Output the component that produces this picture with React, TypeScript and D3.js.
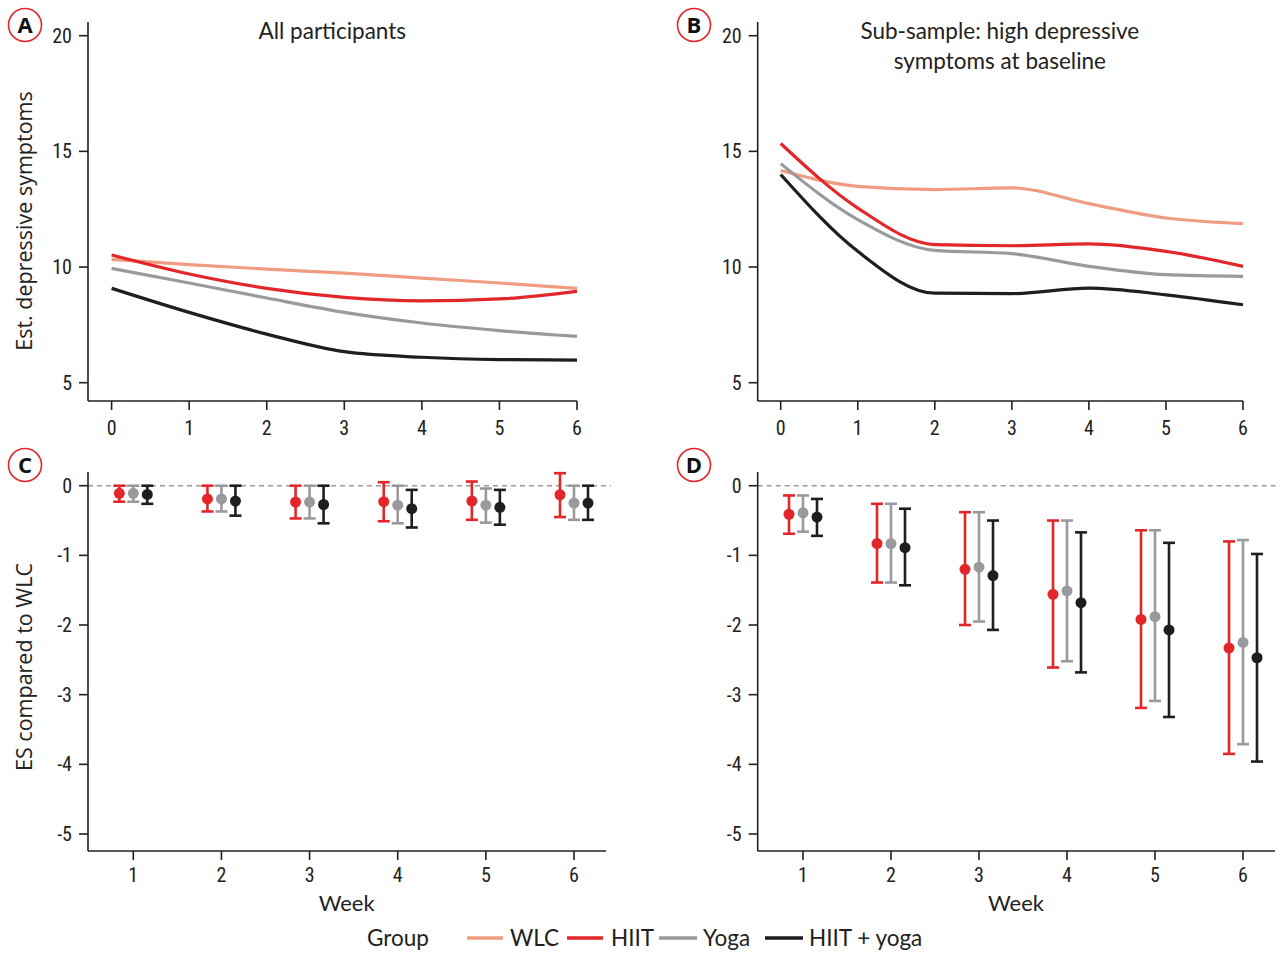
import React from "react";
import * as d3 from "d3";

// Panels A/B: estimated depressive symptoms by week
const weeks = [0, 1, 2, 3, 4, 5, 6];
const groups = ["WLC", "HIIT", "Yoga", "HIIT + yoga"];
const colors = ["#f09c80", "#e3262a", "#9a9a9e", "#1e1e20"];

const allWLC = [10.33, 10.1, 9.91, 9.74, 9.52, 9.31, 9.08];
const allHIIT = [10.52, 9.7, 9.08, 8.69, 8.54, 8.62, 8.95];
const allYoga = [9.94, 9.31, 8.66, 8.04, 7.58, 7.25, 7.0];
const allCombo = [9.08, 8.04, 7.1, 6.34, 6.1, 6.0, 5.98];

const subWLC = [14.17, 13.49, 13.35, 13.42, 12.74, 12.12, 11.88];
const subHIIT = [15.34, 12.55, 10.97, 10.92, 11.0, 10.68, 10.03];
const subYoga = [14.47, 12.05, 10.72, 10.58, 10.03, 9.67, 9.6];
const subCombo = [14.0, 10.68, 8.87, 8.85, 9.09, 8.8, 8.37];

// Panels C/D: effect size vs WLC (point, lower, upper)
const esWeeks = [1, 2, 3, 4, 5, 6];
const esGroups = ["HIIT", "Yoga", "HIIT + yoga"];

const allHIITes = [-0.11, -0.19, -0.235, -0.23, -0.22, -0.13];
const allHIITlo = [-0.23, -0.37, -0.47, -0.51, -0.49, -0.45];
const allHIIThi = [0, 0, 0, 0.05, 0.06, 0.18];
const allYogaEs = [-0.11, -0.19, -0.235, -0.28, -0.28, -0.25];
const allYogaLo = [-0.23, -0.37, -0.47, -0.54, -0.53, -0.49];
const allYogaHi = [0, 0, 0, 0, -0.04, 0];
const allComboEs = [-0.125, -0.22, -0.27, -0.33, -0.31, -0.25];
const allComboLo = [-0.26, -0.43, -0.54, -0.6, -0.56, -0.49];
const allComboHi = [0, 0, 0, -0.06, -0.06, 0];

const subHIITes = [-0.41, -0.83, -1.2, -1.56, -1.92, -2.33];
const subHIITlo = [-0.69, -1.39, -2.0, -2.61, -3.19, -3.85];
const subHIIThi = [-0.14, -0.26, -0.38, -0.5, -0.64, -0.8];
const subYogaEs = [-0.39, -0.83, -1.17, -1.51, -1.88, -2.25];
const subYogaLo = [-0.66, -1.39, -1.95, -2.52, -3.09, -3.71];
const subYogaHi = [-0.14, -0.26, -0.38, -0.5, -0.64, -0.78];
const subComboEs = [-0.45, -0.89, -1.29, -1.68, -2.07, -2.47];
const subComboLo = [-0.72, -1.43, -2.07, -2.68, -3.32, -3.96];
const subComboHi = [-0.19, -0.33, -0.5, -0.67, -0.82, -0.98];

const symTicks = [5, 10, 15, 20];
const esTicks = [0, -1, -2, -3, -4, -5];

const TICK_FONT = "'Liberation Sans Narrow', 'Roboto Condensed', 'Liberation Sans', sans-serif";
const FONT = "Lato, 'Open Sans', sans-serif";
const LABEL_FONT = "'Open Sans', 'Noto Sans', sans-serif";
const AXIS = "#231f20";

function Badge({ x, y, letter }: { x: number; y: number; letter: string }) {
  return (
    <g>
      <circle cx={x} cy={y} r={16.5} fill="white" stroke="#e3262a" strokeWidth={1.6} />
      <text x={x} y={y + 8} textAnchor="middle" fontFamily={LABEL_FONT} fontWeight={700} fontSize={22} fill="#111">
        {letter}
      </text>
    </g>
  );
}

function LinePanel({ left, x0, x6, series, title }: any) {
  const x = d3.scaleLinear().domain([0, 6]).range([x0, x6]);
  const y = d3.scaleLinear().domain([5, 20]).range([382.7, 35.7]);
  const top = 22;
  const bottom = 401;
  const line = d3
    .line<number>()
    .x((_, i) => x(weeks[i]))
    .y((d) => y(d))
    .curve(d3.curveMonotoneX);
  return (
    <g>
      <line x1={left} x2={left} y1={top} y2={bottom} stroke={AXIS} strokeWidth={1.6} />
      <line x1={left} x2={x6} y1={bottom} y2={bottom} stroke={AXIS} strokeWidth={1.6} />
      {symTicks.map((t) => (
        <g key={t}>
          <line x1={left - 9} x2={left} y1={y(t)} y2={y(t)} stroke={AXIS} strokeWidth={1.6} />
          <text x={left - 16} y={y(t) + 7} textAnchor="end" fontFamily={TICK_FONT} fontSize={20} fill="#222">
            {t}
          </text>
        </g>
      ))}
      {weeks.map((w) => (
        <g key={w}>
          <line x1={x(w)} x2={x(w)} y1={bottom} y2={bottom + 9} stroke={AXIS} strokeWidth={1.6} />
          <text x={x(w)} y={bottom + 34} textAnchor="middle" fontFamily={TICK_FONT} fontSize={20} fill="#222">
            {w}
          </text>
        </g>
      ))}
      {series.map((s: number[], i: number) => (
        <path key={i} d={line(s) || ""} fill="none" stroke={colors[i]} strokeWidth={3.2} />
      ))}
      {title.map((t: string, i: number) => (
        <text
          key={i}
          x={(x0 + x6) / 2 - 12}
          y={39 + i * 30}
          textAnchor="middle"
          fontFamily={FONT}
          fontSize={22.5}
          fill="#222"
        >
          {t}
        </text>
      ))}
    </g>
  );
}

function EsPanel({ left, right, x1, x6, es, lo, hi }: any) {
  const x = d3.scaleLinear().domain([1, 6]).range([x1, x6]);
  const y = d3.scaleLinear().domain([-5, 0]).range([834, 485.7]);
  const off = d3.scalePoint<string>().domain(esGroups).range([-14, 14]);
  const top = 472;
  const bottom = 851;
  return (
    <g>
      <line x1={left} x2={right + 5} y1={y(0)} y2={y(0)} stroke="#9a9a9a" strokeWidth={1.5} strokeDasharray="5,4" />
      <line x1={left} x2={left} y1={top} y2={bottom} stroke={AXIS} strokeWidth={1.6} />
      <line x1={left} x2={right} y1={bottom} y2={bottom} stroke={AXIS} strokeWidth={1.6} />
      {esTicks.map((t) => (
        <g key={t}>
          <line x1={left - 9} x2={left} y1={y(t)} y2={y(t)} stroke={AXIS} strokeWidth={1.6} />
          <text x={left - 16} y={y(t) + 7} textAnchor="end" fontFamily={TICK_FONT} fontSize={20} fill="#222">
            {t}
          </text>
        </g>
      ))}
      {esWeeks.map((w) => (
        <g key={w}>
          <line x1={x(w)} x2={x(w)} y1={bottom} y2={bottom + 9} stroke={AXIS} strokeWidth={1.6} />
          <text x={x(w)} y={bottom + 31} textAnchor="middle" fontFamily={TICK_FONT} fontSize={20} fill="#222">
            {w}
          </text>
        </g>
      ))}
      {esGroups.map((g, gi) =>
        esWeeks.map((w, wi) => {
          const cx = x(w) + (off(g) || 0);
          const c = colors[gi + 1];
          return (
            <g key={g + w}>
              <line x1={cx} x2={cx} y1={y(hi[gi][wi])} y2={y(lo[gi][wi])} stroke={c} strokeWidth={2.6} />
              <line x1={cx - 6} x2={cx + 6} y1={y(hi[gi][wi])} y2={y(hi[gi][wi])} stroke={c} strokeWidth={2.6} />
              <line x1={cx - 6} x2={cx + 6} y1={y(lo[gi][wi])} y2={y(lo[gi][wi])} stroke={c} strokeWidth={2.6} />
              <circle cx={cx} cy={y(es[gi][wi])} r={5.5} fill={c} />
            </g>
          );
        })
      )}
      <text x={(x1 + x6) / 2 - 7} y={911} textAnchor="middle" fontFamily={FONT} fontSize={22} fill="#222">
        Week
      </text>
    </g>
  );
}

export default function App() {
  const legendItems = [
    { x: 467, w: 36, tx: 510 },
    { x: 567, w: 36, tx: 611 },
    { x: 659, w: 38, tx: 703 },
    { x: 765, w: 38, tx: 809 },
  ];
  return (
    <svg width={1280} height={953} style={{ position: "absolute", left: 0, top: 0, background: "white" }}>
      <LinePanel left={88} x0={111.6} x6={577} series={[allWLC, allHIIT, allYoga, allCombo]} title={["All participants"]} />
      <LinePanel
        left={757.7}
        x0={780.7}
        x6={1243}
        series={[subWLC, subHIIT, subYoga, subCombo]}
        title={["Sub-sample: high depressive", "symptoms at baseline"]}
      />
      <EsPanel
        left={88}
        right={606}
        x1={133.3}
        x6={574}
        es={[allHIITes, allYogaEs, allComboEs]}
        lo={[allHIITlo, allYogaLo, allComboLo]}
        hi={[allHIIThi, allYogaHi, allComboHi]}
      />
      <EsPanel
        left={757.7}
        right={1275}
        x1={803}
        x6={1243}
        es={[subHIITes, subYogaEs, subComboEs]}
        lo={[subHIITlo, subYogaLo, subComboLo]}
        hi={[subHIIThi, subYogaHi, subComboHi]}
      />
      <text
        transform="translate(32,221) rotate(-90)"
        textAnchor="middle"
        fontFamily={LABEL_FONT}
        fontSize={21.5}
        fill="#222"
      >
        Est. depressive symptoms
      </text>
      <text
        transform="translate(32,667) rotate(-90)"
        textAnchor="middle"
        fontFamily={LABEL_FONT}
        fontSize={21.5}
        fill="#222"
      >
        ES compared to WLC
      </text>
      <Badge x={25} y={25} letter="A" />
      <Badge x={694} y={25} letter="B" />
      <Badge x={25} y={465} letter="C" />
      <Badge x={694} y={465} letter="D" />
      <text x={367} y={946} fontFamily={FONT} fontSize={22.5} fill="#222">
        Group
      </text>
      {groups.map((g, i) => (
        <g key={g}>
          <line
            x1={legendItems[i].x}
            x2={legendItems[i].x + legendItems[i].w}
            y1={938}
            y2={938}
            stroke={colors[i]}
            strokeWidth={3.5}
          />
          <text x={legendItems[i].tx} y={946} fontFamily={FONT} fontSize={22.5} fill="#222">
            {g}
          </text>
        </g>
      ))}
    </svg>
  );
}
